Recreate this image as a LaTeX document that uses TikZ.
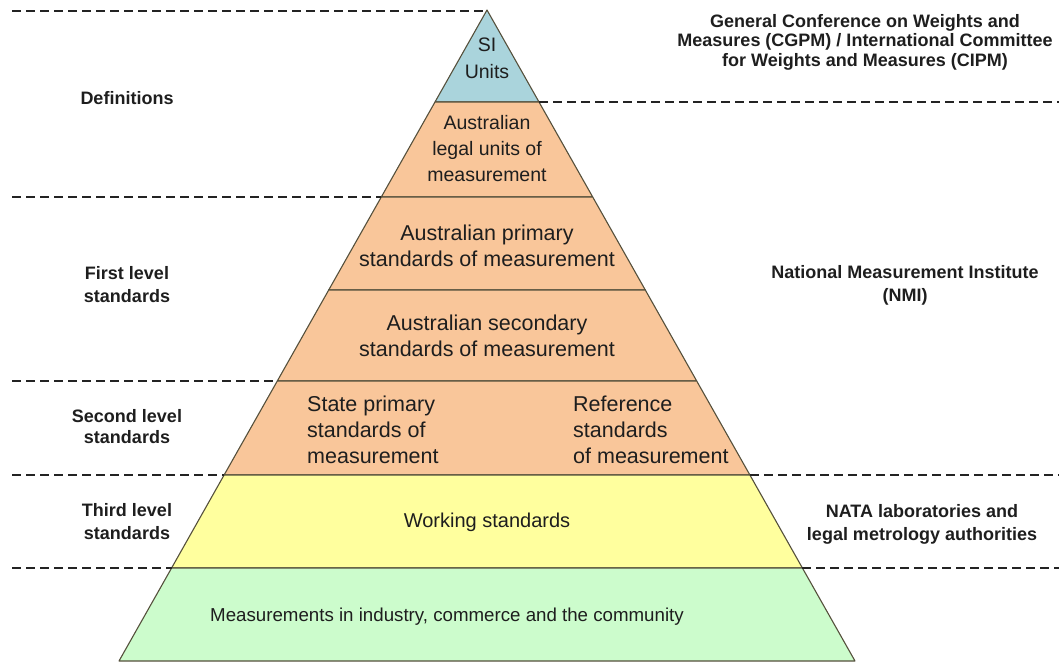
\documentclass[tikz,border=0pt]{standalone}
\usepackage{fontspec}
\setmainfont{Liberation Sans}
\definecolor{siblue}{RGB}{170,212,220}
\definecolor{peach}{RGB}{249,198,154}
\definecolor{lyellow}{RGB}{255,255,158}
\definecolor{lgreen}{RGB}{204,252,204}
\definecolor{edgecol}{RGB}{85,80,60}
\definecolor{dashcol}{RGB}{35,35,35}
\definecolor{textcol}{RGB}{30,30,30}
\begin{document}
\begin{tikzpicture}[x=1pt,y=-1pt,
  band/.style={draw=edgecol, line width=1.1pt, line join=round},
  guide/.style={draw=dashcol, line width=1.8pt, dash pattern=on 9pt off 5pt},
  ptext/.style={font=\fontsize{19.5}{26}\selectfont, align=center, text=textcol, inner sep=0pt},
  bigtext/.style={ptext, font=\fontsize{21.5}{26}\selectfont},
  sidetext/.style={font=\fontsize{18}{23}\selectfont\bfseries, align=center, text=textcol, inner sep=0pt}]
\useasboundingbox (0,0) rectangle (1059,661);
% levels
\coordinate (apex) at (487,10);
\coordinate (l1) at (435,102);   \coordinate (r1) at (539,102);
\coordinate (l2) at (381.3,197); \coordinate (r2) at (592.7,197);
\coordinate (l3) at (328.7,290); \coordinate (r3) at (645.3,290);
\coordinate (l4) at (277.3,381); \coordinate (r4) at (696.7,381);
\coordinate (l5) at (224.1,475); \coordinate (r5) at (749.9,475);
\coordinate (l6) at (171.6,568); \coordinate (r6) at (802.4,568);
\coordinate (l7) at (119,661);   \coordinate (r7) at (855,661);
% bands
\path[band, fill=siblue] (apex) -- (r1) -- (l1) -- cycle;
\path[band, fill=peach] (l1) -- (r1) -- (r2) -- (l2) -- cycle;
\path[band, fill=peach] (l2) -- (r2) -- (r3) -- (l3) -- cycle;
\path[band, fill=peach] (l3) -- (r3) -- (r4) -- (l4) -- cycle;
\path[band, fill=peach] (l4) -- (r4) -- (r5) -- (l5) -- cycle;
\path[band, fill=lyellow] (l5) -- (r5) -- (r6) -- (l6) -- cycle;
\path[band, fill=lgreen] (l6) -- (r6) -- (r7) -- (l7) -- cycle;
% dashed guides
\coordinate (g0) at (12,11);
\coordinate (g2) at (12,197);
\coordinate (g4) at (12,381);
\coordinate (g5) at (12,475);
\coordinate (g6) at (12,568);
\coordinate (h1) at (1059,102);
\coordinate (h5) at (1059,475);
\coordinate (h6) at (1059,568);
\draw[guide] (g0) -- (apex |- g0);
\draw[guide] (g2) -- (l2);
\draw[guide] (g4) -- (l4);
\draw[guide] (g5) -- (l5);
\draw[guide] (g6) -- (l6);
\draw[guide] (r1) -- (h1);
\draw[guide] (r5) -- (h5);
\draw[guide] (r6) -- (h6);
% pyramid texts
\node[ptext, font=\fontsize{19.5}{27}\selectfont] (si) at (487,58) {SI\\Units};
\node[ptext] (legal) at (487,149) {Australian\\legal units of\\measurement};
\node[bigtext] (prim) at (487,245.5) {Australian primary\\standards of measurement};
\node[bigtext] (sec) at (487,336) {Australian secondary\\standards of measurement};
\node[bigtext, align=left, anchor=west] (state) at (307,430) {State primary\\standards of\\measurement};
\node[bigtext, align=left, anchor=west] (ref) at (573,430) {Reference\\standards\\of measurement};
\node[ptext, font=\fontsize{20}{26}\selectfont] (work) at (487,522) {Working standards};
\node[ptext, font=\fontsize{18.7}{26}\selectfont] (meas) at (447,617) {Measurements in industry, commerce and the community};
% side labels
\node[sidetext] (defs) at (127,98) {Definitions};
\node[sidetext] (first) at (127,285) {First level\\standards};
\node[sidetext, font=\fontsize{18}{21}\selectfont\bfseries] (second) at (127,427) {Second level\\standards};
\node[sidetext] (third) at (127,522) {Third level\\standards};
\node[sidetext, font=\fontsize{18}{19.5}\selectfont\bfseries] (cgpm) at (865,42) {General Conference on Weights and\\Measures (CGPM) / International Committee\\for Weights and Measures (CIPM)};
\node[sidetext] (nmi) at (905,285) {National Measurement Institute\\(NMI)};
\node[sidetext] (nata) at (922,524) {NATA laboratories and\\legal metrology authorities};
\end{tikzpicture}
\end{document}
